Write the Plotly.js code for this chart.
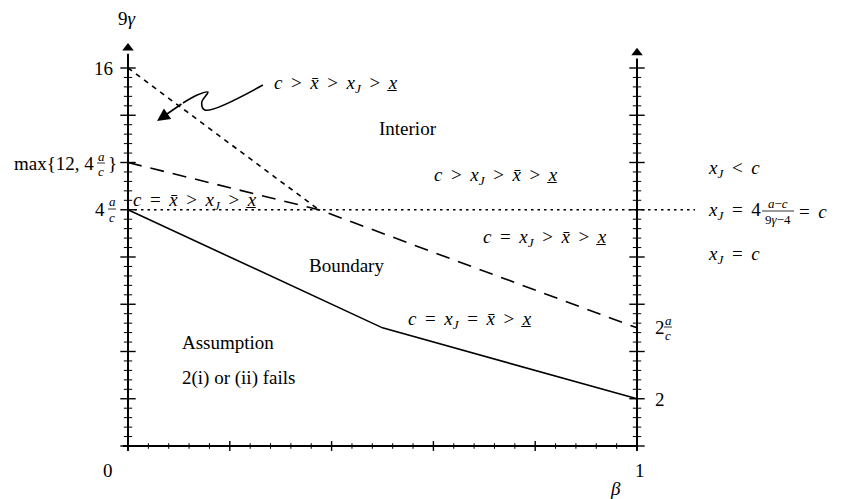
<!DOCTYPE html>
<html>
<head>
<meta charset="utf-8">
<script src="https://cdn.plot.ly/plotly-3.0.1.min.js"></script>
<style>
  html, body { margin: 0; padding: 0; background: #fff; }
  #chart { width: 842px; height: 499px; }
</style>
</head>
<body>
<div id="chart"></div>
<script>
// Region boundaries in the (beta, 9*gamma) plane
const solidBeta = [0, 0.5, 1];
const solidVal = [10, 5, 2];
const dashBeta = [0, 0.375, 1];
const dashVal = [12, 10, 5];
const steepBeta = [0, 0.375];
const steepVal = [16, 10];
const flatBeta = [0, 1.114];
const flatVal = [10, 10];

// Axis ticks
const yMajor = [0, 2, 4, 6, 8, 10, 12, 14, 16];
const yMinor = [0.4, 0.8, 1.2, 1.6, 2.4, 2.8, 3.2, 3.6, 4.4, 4.8, 5.2, 5.6, 6.4, 6.8, 7.2, 7.6,
                8.4, 8.8, 9.2, 9.6, 10.4, 10.8, 11.2, 11.6, 12.4, 12.8, 13.2, 13.6, 14.4, 14.8, 15.2, 15.6];
const xMajor = [0, 0.2, 0.4, 0.6, 0.8, 1];
const xMinor = [0.04, 0.08, 0.12, 0.16, 0.24, 0.28, 0.32, 0.36, 0.44, 0.48, 0.52, 0.56,
                0.64, 0.68, 0.72, 0.76, 0.84, 0.88, 0.92, 0.96];

// Squiggly pointer towards the top-left region
const squigBeta = [0.265, 0.151, 0.145, 0.157, 0.136, 0.108];
const squigVal = [15.28, 14.22, 14.56, 14.98, 14.86, 14.52];
const squigTip = [0.057, 13.76];

// page geometry (pixels)
const W = 842, H = 499;
const X0 = 128, X1 = 637, Y0 = 446, YU = 23.625;

const FONT = 'Liberation Serif';
const black = '#000';

function col(n, v) { return new Array(n).fill(v); }

const traces = [
    // axes
    { x: [0, 0], y: [-0.2, 16.6], mode: 'lines', line: { color: black, width: 2 } },
    { x: [1, 1], y: [-0.2, 16.4], mode: 'lines', line: { color: black, width: 2 } },
    { x: [-0.01, 1], y: [0, 0], mode: 'lines', line: { color: black, width: 2 } },
    // arrow heads on vertical axes
    { x: [0, 1], y: [16.85, 16.65], mode: 'markers',
      marker: { symbol: 'triangle-up', size: 10, color: black } },
    // y ticks, left and right
    { x: col(yMajor.length, 0).concat(col(yMajor.length, 1)), y: yMajor.concat(yMajor), mode: 'markers',
      marker: { symbol: 'line-ew', size: 11, line: { color: black, width: 1.4 } } },
    { x: col(yMinor.length, 0).concat(col(yMinor.length, 1)), y: yMinor.concat(yMinor), mode: 'markers',
      marker: { symbol: 'line-ew', size: 6, line: { color: black, width: 1 } } },
    // x ticks
    { x: xMajor, y: col(xMajor.length, 0), mode: 'markers',
      marker: { symbol: 'line-ns', size: 7, line: { color: black, width: 1.4 } } },
    { x: xMinor, y: col(xMinor.length, 0), mode: 'markers',
      marker: { symbol: 'line-ns', size: 4, line: { color: black, width: 1 } } },
    // boundaries
    { x: solidBeta, y: solidVal, mode: 'lines', line: { color: black, width: 1.6 } },
    { x: dashBeta, y: dashVal, mode: 'lines', line: { color: black, width: 1.6, dash: '14px,9px' } },
    { x: steepBeta, y: steepVal, mode: 'lines', line: { color: black, width: 1.6, dash: '5px,5px' } },
    { x: flatBeta, y: flatVal, mode: 'lines', line: { color: black, width: 1.6, dash: '2.5px,4px' } },
    // squiggle
    { x: squigBeta, y: squigVal, mode: 'lines', line: { color: black, width: 1.6, shape: 'spline' } }
];

// annotation helper in pixel space
function T(px, py, text, anchor, size) {
    return {
        xref: 'paper', yref: 'paper', x: px / W, y: 1 - py / H,
        text: text, showarrow: false, xanchor: anchor || 'left', yanchor: 'middle',
        font: { family: FONT, size: size || 19, color: black }
    };
}

// stacked fraction: numerator, denominator (bar drawn as a shape)
const bars = [];
function frac(cx, cy, num, den, halfw, size) {
    bars.push({ type: 'line', xref: 'paper', yref: 'paper',
        x0: (cx - halfw) / W, x1: (cx + halfw) / W, y0: 1 - cy / H, y1: 1 - cy / H,
        line: { color: black, width: 0.8 } });
    return [T(cx, cy - 7, num, 'center', size || 13), T(cx, cy + 8, den, 'center', size || 13)];
}

const xbar = '<i>x\u0304</i>';
const xund = '<i>x\u0332</i>';
const xJ = '<i>x</i><sub><i>J</i></sub>';
const c = '<i>c</i>';
const sp = '\u2009';
function rel(a, op, b) { return a + ' ' + sp + op + sp + ' ' + b; }

const annotations = [
    T(127, 18, '9<i>γ</i>', 'center'),
    T(115, 68, '16', 'right'),
    T(96, 163, 'max{12, 4', 'right'),
    ...frac(101, 163, '<i>a</i>', '<i>c</i>', 4),
    T(106, 163, '}', 'left'),
    T(107, 209, '4', 'right'),
    ...frac(112, 209, '<i>a</i>', '<i>c</i>', 4),
    T(108, 470, '0', 'center'),
    T(640, 470, '1', 'center'),
    T(615, 488, '<i>β</i>', 'center'),
    T(653, 327, '2', 'left'),
    ...frac(668, 327, '<i>a</i>', '<i>c</i>', 4),
    T(653, 399, '2', 'left'),

    T(131, 201, rel(rel(rel(c, '=', xbar), '>', xJ), '>', xund)),
    T(272, 84, rel(rel(rel(c, '>', xbar), '>', xJ), '>', xund)),
    T(408, 128, 'Interior', 'center'),
    T(432, 176, rel(rel(rel(c, '>', xJ), '>', xbar), '>', xund)),
    T(481, 238, rel(rel(rel(c, '=', xJ), '>', xbar), '>', xund)),
    T(307, 265, 'Boundary'),
    T(406, 320, rel(rel(rel(c, '=', xJ), '=', xbar), '>', xund)),
    T(180, 342, 'Assumption'),
    T(180, 378, '2(i) or (ii) fails'),

    T(706, 169, rel(xJ, '<', c)),
    T(706, 211, rel(xJ, '=', '4')),
    ...frac(778, 211, '<i>a</i>\u2212<i>c</i>', '9<i>γ</i>\u22124', 16),
    T(797, 211, '=' + sp + ' ' + c),
    T(706, 255, rel(xJ, '=', c)),

    // arrow head of the squiggle
    { x: squigTip[0], y: squigTip[1], ax: squigBeta[5], ay: squigVal[5], axref: 'x', ayref: 'y',
      xref: 'x', yref: 'y', showarrow: true, arrowhead: 2, arrowsize: 1.6, arrowwidth: 1.6,
      arrowcolor: black, text: '' }
];

const layout = {
    width: W, height: H,
    margin: { l: 0, r: 0, t: 0, b: 0 },
    paper_bgcolor: '#fff', plot_bgcolor: '#fff',
    showlegend: false,
    xaxis: { range: [-X0 / (X1 - X0), (W - X0) / (X1 - X0)], visible: false, fixedrange: true },
    yaxis: { range: [-(H - Y0) / YU, Y0 / YU], visible: false, fixedrange: true },
    annotations: annotations,
    shapes: bars
};

Plotly.newPlot('chart', traces, layout, { displayModeBar: false, staticPlot: true });
</script>
</body>
</html>
